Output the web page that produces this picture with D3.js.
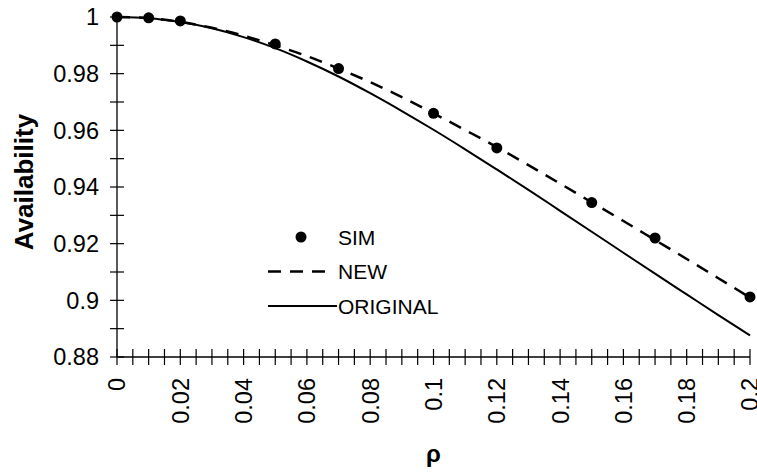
<!DOCTYPE html>
<meta charset="utf-8">
<head>
	<title> Availability vs rho </title>
	<style>
		body { margin: 0; background: #fff; }
		text { font-family: "Liberation Sans", Arial, sans-serif; fill: #000; }
		.curve { fill: none; stroke: #000; }
	</style>
</head>
<body>
  <div class="container"></div>
</body>

<script src="https://cdnjs.cloudflare.com/ajax/libs/d3/7.8.5/d3.min.js"></script>

<script type="text/javascript">

	// rho grid for the two model curves
	var rho = [0, 0.01, 0.02, 0.03, 0.04, 0.05, 0.06, 0.07, 0.08, 0.09, 0.10,
		0.11, 0.12, 0.13, 0.14, 0.15, 0.16, 0.17, 0.18, 0.19, 0.20];

	// NEW model (dashed)
	var newVals = [1.0000, 0.9996, 0.9983, 0.9962, 0.9934, 0.9900, 0.9862, 0.9818, 0.9770, 0.9717, 0.9660,
		0.9601, 0.9541, 0.9477, 0.9412, 0.9346, 0.9280, 0.9213, 0.9146, 0.9078, 0.9010];

	// ORIGINAL model (solid)
	var origVals = [1.0000, 0.9996, 0.9982, 0.9960, 0.9929, 0.9890, 0.9843, 0.9790, 0.9731, 0.9668, 0.9602,
		0.9533, 0.9462, 0.9390, 0.9316, 0.9242, 0.9168, 0.9094, 0.9021, 0.8948, 0.8876];

	// simulation points
	var simRho = [0, 0.01, 0.02, 0.05, 0.07, 0.10, 0.12, 0.15, 0.17, 0.20];
	var simVals = [1.0000, 0.9997, 0.9986, 0.9905, 0.9818, 0.9660, 0.9538, 0.9345, 0.9220, 0.9012];

	// tick labels
	var xLabels = [0, 0.02, 0.04, 0.06, 0.08, 0.1, 0.12, 0.14, 0.16, 0.18, 0.2];
	var yLabels = [0.88, 0.9, 0.92, 0.94, 0.96, 0.98, 1];

	var width = 757;
	var height = 472;

	var svg = d3.select(".container").append("svg")
		.attr("width", width)
		.attr("height", height);

	var x = d3.scaleLinear().domain([0, 0.2]).range([117, 750]);
	var y = d3.scaleLinear().domain([0.88, 1]).range([357, 17]);

	// minor ticks every 0.005 on x, 0.01 on y, crossing the axis
	var xTicks = d3.range(0, 41).map(function (i) { return i * 0.005; });
	var yTicks = d3.range(0, 13).map(function (i) { return 0.88 + i * 0.01; });

	var ax = svg.append("g");

	ax.append("line")
		.attr("x1", x(0)).attr("x2", x(0.2))
		.attr("y1", y(0.88)).attr("y2", y(0.88))
		.attr("stroke", "#000").attr("stroke-width", 1.3);
	ax.append("line")
		.attr("x1", x(0)).attr("x2", x(0))
		.attr("y1", y(0.88)).attr("y2", y(1))
		.attr("stroke", "#000").attr("stroke-width", 1.3);

	ax.selectAll(".xt").data(xTicks).enter().append("line")
		.attr("class", "xt")
		.attr("x1", function (d) { return x(d); })
		.attr("x2", function (d) { return x(d); })
		.attr("y1", y(0.88) - 8).attr("y2", y(0.88) + 8)
		.attr("stroke", "#000").attr("stroke-width", 1.2);

	ax.selectAll(".yt").data(yTicks).enter().append("line")
		.attr("class", "yt")
		.attr("x1", x(0) - 7).attr("x2", x(0) + 7)
		.attr("y1", function (d) { return y(d); })
		.attr("y2", function (d) { return y(d); })
		.attr("stroke", "#000").attr("stroke-width", 1.2);

	// y tick labels
	ax.selectAll(".yl").data(yLabels).enter().append("text")
		.attr("class", "yl")
		.attr("x", 99)
		.attr("y", function (d) { return y(d); })
		.attr("dy", "0.36em")
		.attr("text-anchor", "end")
		.style("font-size", "23.5px")
		.text(function (d) { return d3.format("")(d); });

	// x tick labels, rotated
	ax.selectAll(".xl").data(xLabels).enter().append("text")
		.attr("class", "xl")
		.attr("transform", function (d) { return "translate(" + x(d) + ",378) rotate(-90)"; })
		.attr("dy", "0.36em")
		.attr("text-anchor", "end")
		.style("font-size", "23.5px")
		.text(function (d) { return d3.format("")(d); });

	// axis titles
	svg.append("text")
		.attr("transform", "translate(33,182) rotate(-90)")
		.attr("text-anchor", "middle")
		.style("font-size", "26px")
		.style("font-weight", "bold")
		.text("Availability");

	svg.append("text")
		.attr("x", x(0.1))
		.attr("y", 462)
		.attr("text-anchor", "middle")
		.style("font-size", "24px")
		.style("font-weight", "bold")
		.text("ρ");

	// curves
	var line = d3.line()
		.x(function (d) { return x(d[0]); })
		.y(function (d) { return y(d[1]); })
		.curve(d3.curveMonotoneX);

	svg.append("path")
		.attr("class", "curve")
		.attr("d", line(d3.zip(rho, origVals)))
		.attr("stroke-width", 2);

	svg.append("path")
		.attr("class", "curve")
		.attr("d", line(d3.zip(rho, newVals)))
		.attr("stroke-width", 2.5)
		.attr("stroke-dasharray", "13,9");

	svg.selectAll(".sim").data(d3.zip(simRho, simVals)).enter().append("circle")
		.attr("class", "sim")
		.attr("cx", function (d) { return x(d[0]); })
		.attr("cy", function (d) { return y(d[1]); })
		.attr("r", 5.5)
		.attr("fill", "#000");

	// legend
	var lg = svg.append("g").style("font-size", "21px");
	lg.append("circle").attr("cx", 301).attr("cy", 237).attr("r", 5.5).attr("fill", "#000");
	lg.append("text").attr("x", 338).attr("y", 237).attr("dy", "0.36em").text("SIM");
	lg.append("line").attr("x1", 268).attr("x2", 325).attr("y1", 271.5).attr("y2", 271.5)
		.attr("stroke", "#000").attr("stroke-width", 2.5).attr("stroke-dasharray", "13,9");
	lg.append("text").attr("x", 338).attr("y", 271.5).attr("dy", "0.36em").text("NEW");
	lg.append("line").attr("x1", 268).attr("x2", 337).attr("y1", 306).attr("y2", 306)
		.attr("stroke", "#000").attr("stroke-width", 2);
	lg.append("text").attr("x", 338).attr("y", 306).attr("dy", "0.36em").text("ORIGINAL");

</script>
</html>
